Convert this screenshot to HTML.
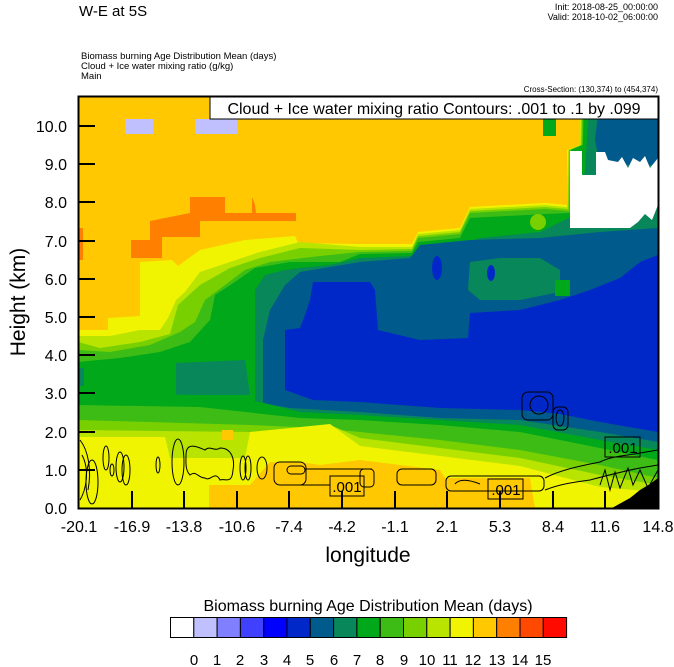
<!DOCTYPE html>
<html><head><meta charset="utf-8"><style>
html,body{margin:0;padding:0;background:#fff;}
svg{display:block;font-family:"Liberation Sans",Arial,sans-serif;}
</style></head><body>
<svg width="674" height="667" viewBox="0 0 674 667" xmlns="http://www.w3.org/2000/svg">
<defs><clipPath id="pc"><rect x="78" y="96" width="580" height="412"/></clipPath></defs>
<text x="79" y="16" font-size="15">W-E at 5S</text>
<text x="658" y="10" font-size="9" text-anchor="end">Init: 2018-08-25_00:00:00</text>
<text x="658" y="20" font-size="9" text-anchor="end">Valid: 2018-10-02_06:00:00</text>
<text x="81" y="59" font-size="9.5">Biomass burning Age Distribution Mean   (days)</text>
<text x="81" y="69" font-size="9.5">Cloud + Ice water mixing ratio   (g/kg)</text>
<text x="81" y="79" font-size="9.5">Main</text>
<text x="658" y="92" font-size="8" text-anchor="end">Cross-Section: (130,374) to (454,374)</text>
<g clip-path="url(#pc)">
<rect x="78" y="96" width="580" height="412" fill="#ffc800"/>
<rect x="125" y="119" width="28" height="15" fill="#c0c0ff"/>
<rect x="195" y="119" width="42" height="15" fill="#c0c0ff"/>
<polygon fill="#ff8000" points="190,213 190,197 225,197 225,213 252,213 252,197 255,205 256,213 296,213 296,221 200,221 200,237 162,237 162,258 131,258 131,240 150,240 150,221"/>
<rect x="78" y="228" width="5" height="32" fill="#ff8000"/>
<polygon fill="#f0f400" points="78,330 108,330 108,318 140,316 140,262 172,260 178,266 200,250 245,240 295,236 298,243 360,244 412,244 418,232 460,228 470,207 545,203 567,205 567,150 580,145 580,96 658,96 658,508 78,508"/>
<polygon fill="#b8e400" points="78,336 110,336 140,330 160,330 168,318 176,300 185,292 200,272 230,262 260,252 300,242 360,247 412,247 418,234 460,230 470,209 545,205 567,207 568,150 580,145 581,96 658,96 658,508 78,508"/>
<polygon fill="#78d000" points="78,342 100,348 140,342 170,334 178,305 200,285 230,268 260,258 300,248 360,250 412,249 418,236 460,232 470,211 545,207 568,209 569,150 581,145 582,96 658,96 658,508 78,508"/>
<polygon fill="#3cbc14" points="78,350 110,352 150,345 180,332 195,322 205,300 225,285 245,270 270,262 320,256 360,252 412,251 418,238 460,234 470,213 545,209 569,211 570,150 582,145 583,96 658,96 658,508 78,508"/>
<polygon fill="#00a81a" points="78,362 120,358 160,352 190,342 210,320 215,295 235,282 255,268 290,262 340,262 360,254 412,253 418,242 460,238 470,218 545,214 570,213 571,150 583,145 584,96 658,96 658,508 78,508"/>
<rect x="543" y="96" width="13" height="40" fill="#00a81a"/>
<circle cx="538" cy="222" r="8" fill="#78d000"/>
<polygon fill="#08875a" points="176,363 245,360 250,395 176,395"/>
<rect x="78" y="368" width="6" height="18" fill="#08875a"/>
<polygon fill="#08875a" points="255,508 255,290 265,275 285,270 300,268 330,265 360,258 412,256 420,250 460,245 480,238 540,232 575,215 585,170 590,96 658,96 658,508"/>
<polygon fill="#005a8c" points="263,508 263,340 270,310 285,285 300,272 360,262 410,258 420,245 470,240 540,238 600,232 658,228 658,508"/>
<polygon fill="#005a8c" points="600,96 658,96 658,165 600,165 595,140"/>
<rect x="592" y="96" width="9" height="17" fill="#0028c8"/>
<polygon fill="#ffffff" points="570,151 582,151 582,175 596,175 596,152 605,152 608,160 618,162 622,157 628,168 633,158 640,162 645,156 650,168 658,158 658,205 652,220 645,214 638,222 630,228 570,228"/>
<polygon fill="#08875a" points="470,262 500,258 540,258 560,270 560,292 520,300 480,300 468,290"/>
<rect x="555" y="280" width="15" height="16" fill="#00a81a"/>
<polygon fill="#0028c8" points="313,282 370,282 375,290 378,330 420,340 468,338 470,313 520,310 560,300 590,290 620,278 640,262 658,255 658,508 285,508 285,330 300,328 305,315 310,300"/>
<ellipse cx="437" cy="268" rx="5" ry="12" fill="#0028c8"/>
<ellipse cx="491" cy="273" rx="4" ry="8" fill="#0028c8"/>
<polygon fill="#005a8c" points="285,390 313,400 360,402 440,408 520,410 560,414 600,422 658,432 658,508 285,508"/>
<polygon fill="#005a8c" points="263,395 285,388 285,508 263,508"/>
<polygon fill="#08875a" points="255,402 290,408 360,412 440,418 520,420 600,432 658,442 658,508 255,508"/>
<polygon fill="#00a81a" points="78,393 200,395 260,402 300,412 360,415 440,420 520,425 600,440 658,450 658,508 78,508"/>
<polygon fill="#3cbc14" points="78,405 200,407 300,418 360,420 440,425 520,432 600,448 658,460 658,508 78,508"/>
<polygon fill="#78d000" points="78,420 150,422 250,425 320,428 360,432 440,440 520,450 600,465 658,478 658,508 78,508"/>
<polygon fill="#b8e400" points="78,430 250,432 330,425 360,438 440,448 520,458 600,475 658,485 658,508 78,508"/>
<polygon fill="#f0f400" points="78,437 165,437 170,458 245,458 250,432 330,424 360,446 440,456 520,466 600,487 658,492 658,508 78,508"/>
<polygon fill="#ffc800" points="209,508 209,485 250,485 270,462 300,462 320,465 360,460 440,470 445,478 530,478 535,508"/>
<rect x="222" y="430" width="11" height="10" fill="#ffc800"/>
<polygon fill="#000" points="612,508 630,498 640,490 650,484 658,478 658,508"/>
<g fill="none" stroke="#000" stroke-width="1">
<path d="M80,440 C88,450 92,470 88,490 M82,455 C90,470 86,490 80,500"/>
<ellipse cx="92" cy="482" rx="6" ry="22"/>
<ellipse cx="106" cy="458" rx="3" ry="12"/>
<ellipse cx="112" cy="470" rx="2" ry="6"/>
<ellipse cx="120" cy="467" rx="4" ry="15"/>
<ellipse cx="126" cy="470" rx="4" ry="15"/>
<ellipse cx="158" cy="465" rx="2" ry="8"/>
<ellipse cx="178" cy="462" rx="6" ry="23"/>
<path d="M186,455 C186,440 200,448 205,450 C210,445 215,452 220,448 C232,448 235,460 233,470 C232,485 225,478 220,480 C215,470 210,482 205,478 C198,478 196,470 190,475 C185,470 186,462 186,455 Z"/>
<ellipse cx="243" cy="468" rx="3" ry="12"/>
<ellipse cx="248" cy="468" rx="3" ry="12"/>
<ellipse cx="262" cy="468" rx="5" ry="11"/>
<rect x="274" y="462" width="32" height="23" rx="6"/>
<rect x="287" y="466" width="18" height="8" rx="4"/>
<path d="M305,469 L372,469 M300,485 L330,485"/>
<rect x="360" y="469" width="14" height="18" rx="4"/>
<rect x="397" y="469" width="39" height="16" rx="5"/>
<rect x="446" y="476" width="98" height="15" rx="5"/>
<path d="M455,484 C460,478 470,480 480,484"/>
<path d="M545,478 C560,470 580,466 600,462 C612,456 625,456 640,453 L658,450"/>
<path d="M545,490 C560,484 575,482 590,480 C605,476 620,472 640,468 L658,465"/>
<path d="M600,485 L605,470 L610,490 L615,472 L620,488 L628,468 L633,485 L640,470 L648,488 L658,470"/>
<rect x="522" y="392" width="31" height="28" rx="6"/>
<circle cx="539" cy="405" r="9"/>
<rect x="553" y="407" width="15" height="23" rx="5"/>
<ellipse cx="560" cy="418" rx="4" ry="8"/>
</g>
<g font-size="15" text-anchor="middle">
<rect x="330" y="476" width="34" height="20" fill="none" stroke="#000"/>
<text x="347" y="492">.001</text>
<rect x="488" y="479" width="35" height="20" fill="none" stroke="#000"/>
<text x="506" y="495">.001</text>
<rect x="605" y="437" width="35" height="20" fill="none" stroke="#000"/>
<text x="623" y="453">.001</text>
</g>
</g>
<rect x="210" y="96" width="448" height="23" fill="#fff" stroke="#000" stroke-width="1"/>
<text x="434" y="114" font-size="16" text-anchor="middle">Cloud + Ice water mixing ratio Contours: .001 to .1 by .099</text>
<rect x="78.5" y="96.5" width="580" height="412" fill="none" stroke="#000" stroke-width="2"/>
<g stroke="#000" stroke-width="2">
<line x1="78" y1="126" x2="95" y2="126"/><line x1="78" y1="164" x2="95" y2="164"/><line x1="78" y1="202" x2="95" y2="202"/><line x1="78" y1="241" x2="95" y2="241"/><line x1="78" y1="279" x2="95" y2="279"/><line x1="78" y1="317" x2="95" y2="317"/><line x1="78" y1="355" x2="95" y2="355"/><line x1="78" y1="393" x2="95" y2="393"/><line x1="78" y1="432" x2="95" y2="432"/><line x1="78" y1="470" x2="95" y2="470"/>
<line x1="132" y1="508" x2="132" y2="491"/><line x1="184" y1="508" x2="184" y2="491"/><line x1="237" y1="508" x2="237" y2="491"/><line x1="289" y1="508" x2="289" y2="491"/><line x1="342" y1="508" x2="342" y2="491"/><line x1="395" y1="508" x2="395" y2="491"/><line x1="447" y1="508" x2="447" y2="491"/><line x1="500" y1="508" x2="500" y2="491"/><line x1="553" y1="508" x2="553" y2="491"/><line x1="605" y1="508" x2="605" y2="491"/>
</g>
<g font-size="16" text-anchor="end">
<text x="67" y="132">10.0</text><text x="67" y="170">9.0</text><text x="67" y="208">8.0</text><text x="67" y="247">7.0</text><text x="67" y="285">6.0</text><text x="67" y="323">5.0</text><text x="67" y="361">4.0</text><text x="67" y="399">3.0</text><text x="67" y="438">2.0</text><text x="67" y="476">1.0</text><text x="67" y="514">0.0</text>
</g>
<g font-size="16" text-anchor="middle">
<text x="79" y="532">-20.1</text><text x="132" y="532">-16.9</text><text x="184" y="532">-13.8</text><text x="237" y="532">-10.6</text><text x="289" y="532">-7.4</text><text x="342" y="532">-4.2</text><text x="395" y="532">-1.1</text><text x="447" y="532">2.1</text><text x="500" y="532">5.3</text><text x="553" y="532">8.4</text><text x="605" y="532">11.6</text><text x="658" y="532">14.8</text>
</g>
<text x="368" y="562" font-size="21" text-anchor="middle">longitude</text>
<text transform="translate(25,302) rotate(-90)" font-size="21" text-anchor="middle">Height (km)</text>
<text x="368" y="611" font-size="16" text-anchor="middle">Biomass burning Age Distribution Mean  (days)</text>
<g stroke="#000" stroke-width="1">
<rect x="170.5" y="617.5" width="23.3" height="20" fill="#ffffff"/>
<rect x="193.8" y="617.5" width="23.3" height="20" fill="#c0c0ff"/>
<rect x="217.1" y="617.5" width="23.3" height="20" fill="#8080ff"/>
<rect x="240.4" y="617.5" width="23.3" height="20" fill="#4040ff"/>
<rect x="263.7" y="617.5" width="23.3" height="20" fill="#0000ff"/>
<rect x="287" y="617.5" width="23.3" height="20" fill="#0028c8"/>
<rect x="310.3" y="617.5" width="23.3" height="20" fill="#005a8c"/>
<rect x="333.6" y="617.5" width="23.3" height="20" fill="#08875a"/>
<rect x="356.9" y="617.5" width="23.3" height="20" fill="#00a81a"/>
<rect x="380.2" y="617.5" width="23.3" height="20" fill="#3cbc14"/>
<rect x="403.5" y="617.5" width="23.3" height="20" fill="#78d000"/>
<rect x="426.8" y="617.5" width="23.3" height="20" fill="#b8e400"/>
<rect x="450.1" y="617.5" width="23.3" height="20" fill="#f0f400"/>
<rect x="473.4" y="617.5" width="23.3" height="20" fill="#ffc800"/>
<rect x="496.7" y="617.5" width="23.3" height="20" fill="#ff8000"/>
<rect x="520" y="617.5" width="23.3" height="20" fill="#ff4800"/>
<rect x="543.3" y="617.5" width="23.3" height="20" fill="#ff0a00"/>
</g>
<g font-size="15" text-anchor="middle">
<text x="194" y="665">0</text><text x="217" y="665">1</text><text x="240" y="665">2</text><text x="264" y="665">3</text><text x="287" y="665">4</text><text x="310" y="665">5</text><text x="334" y="665">6</text><text x="357" y="665">7</text><text x="380" y="665">8</text><text x="404" y="665">9</text><text x="427" y="665">10</text><text x="450" y="665">11</text><text x="473" y="665">12</text><text x="497" y="665">13</text><text x="520" y="665">14</text><text x="543" y="665">15</text>
</g>
</svg>
</body></html>
